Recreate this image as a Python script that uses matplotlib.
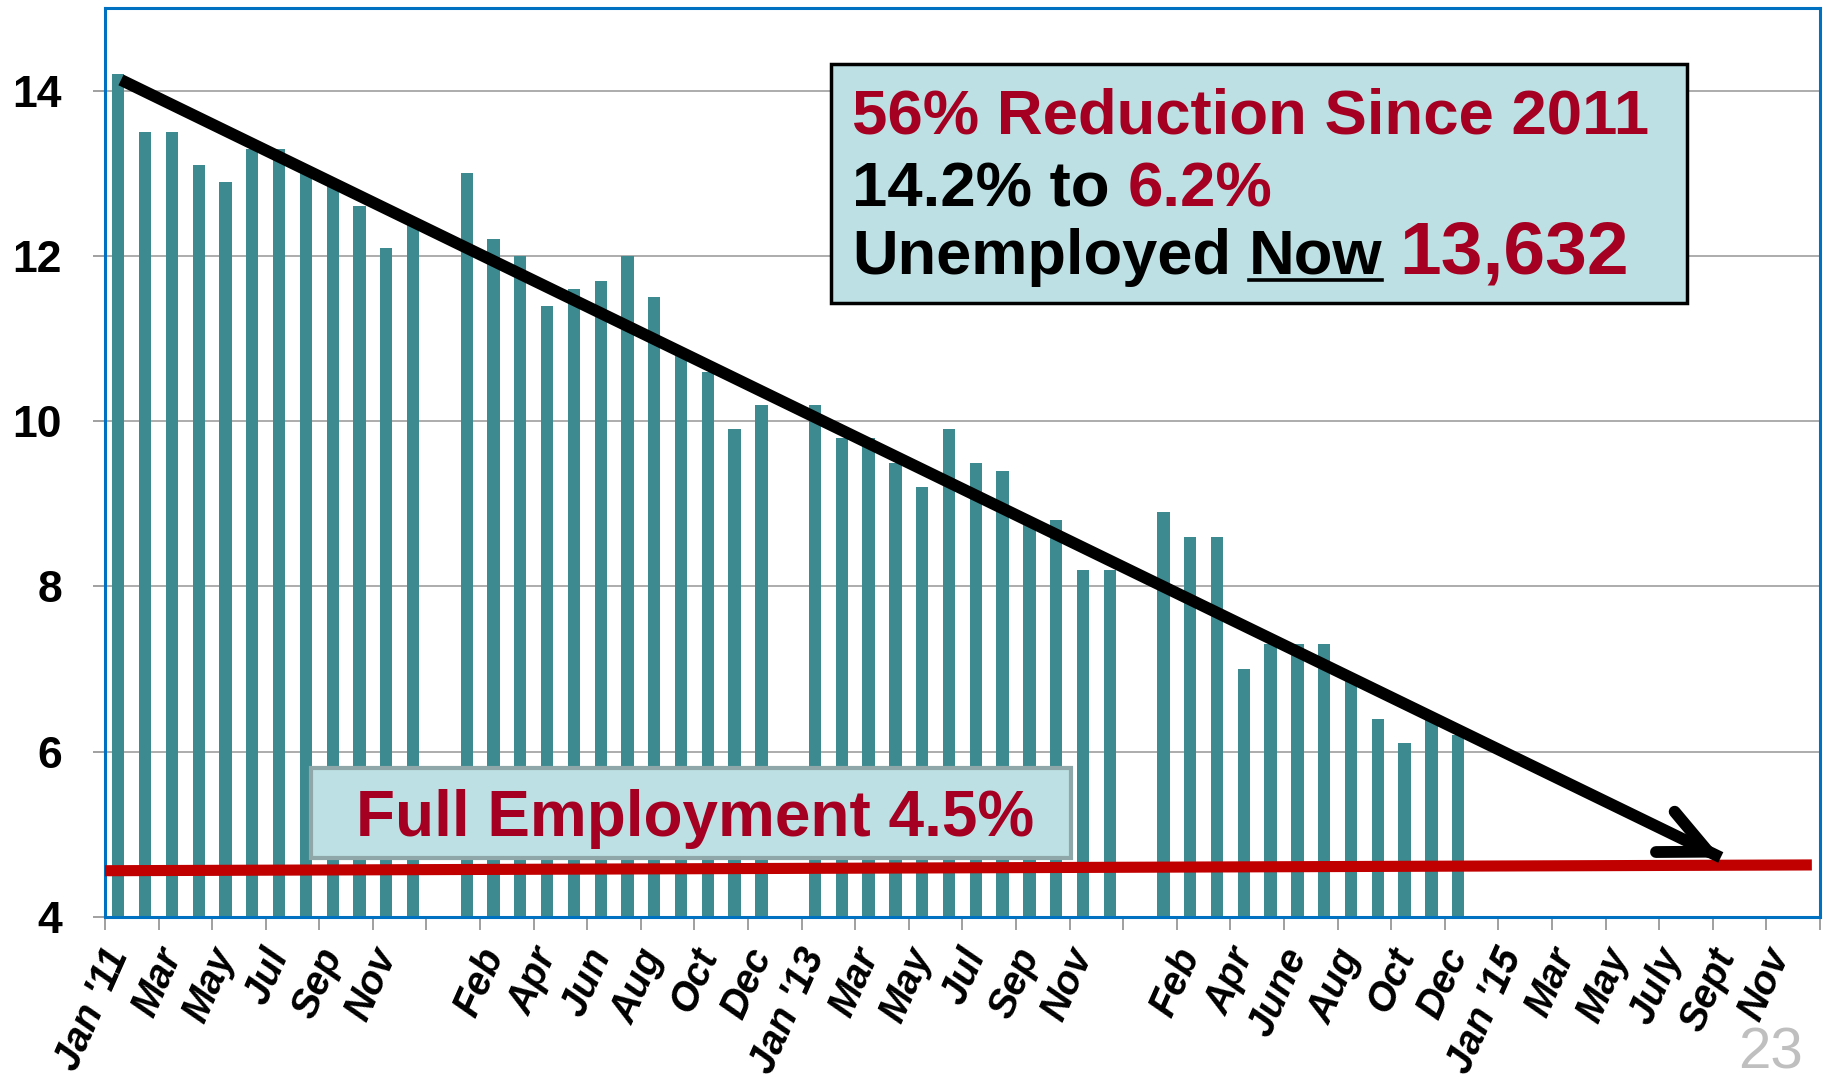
import matplotlib
matplotlib.use('Agg')
import matplotlib.pyplot as plt
from matplotlib.patches import FancyArrowPatch, Rectangle

# unemployment rate by month (%), one list per year
rate_2011 = [14.2, 13.5, 13.5, 13.1, 12.9, 13.3, 13.3, 13.0, 12.9, 12.6, 12.1, 12.4]
rate_2012 = [13.0, 12.2, 12.0, 11.4, 11.6, 11.7, 12.0, 11.5, 10.8, 10.6, 9.9, 10.2]
rate_2013 = [10.2, 9.8, 9.8, 9.5, 9.2, 9.9, 9.5, 9.4, 8.8, 8.8, 8.2, 8.2]
rate_2014 = [8.9, 8.6, 8.6, 7.0, 7.3, 7.3, 7.3, 6.9, 6.4, 6.1, 6.4, 6.2]
years = [rate_2011, rate_2012, rate_2013, rate_2014]

# every second category gets a label (blank slot after each year)
tick_labels = ["Jan '11", "Mar", "May", "Jul", "Sep", "Nov", "",
               "Feb", "Apr", "Jun", "Aug", "Oct", "Dec",
               "Jan '13", "Mar", "May", "Jul", "Sep", "Nov", "",
               "Feb", "Apr", "June", "Aug", "Oct", "Dec",
               "Jan '15", "Mar", "May", "July", "Sept", "Nov"]
n_slots = 64

full_employment = [4.56, 4.63]      # red reference line (left, right)
trend_start = (0.1, 14.13)
trend_end = (59.8, 4.72)

TEAL = '#3D8B90'
DARKRED = '#A50021'
BOXBLUE = '#BCE0E3'
FONT = 'Liberation Sans'

fig = plt.figure(figsize=(18.25, 10.87), dpi=100)
ax = fig.add_axes([0.0575, 0.1564, 0.9397, 0.8362])

# bars
xs, ys = [], []
for yi, vals in enumerate(years):
    for m, v in enumerate(vals):
        xs.append(yi * 13 + m)
        ys.append(v)
ax.bar(xs, [v - 4 for v in ys], bottom=4, width=0.46, color=TEAL, zorder=2)

ax.set_xlim(-0.5, n_slots - 0.5)
ax.set_ylim(4, 15)

# y axis
ax.set_yticks([4, 6, 8, 10, 12, 14])
ax.set_yticklabels(['4', '6', '8', '10', '12', '14'], fontsize=32,
                   fontweight='bold', family=FONT)
ax.tick_params(axis='y', direction='out', length=9, width=1.2,
               color='#909090', pad=22)
ax.yaxis.grid(True, color='#A6A6A6', lw=1.3, zorder=0)
ax.set_axisbelow(True)

# x axis: labels on even categories, tick marks between pairs
label_pos = list(range(0, n_slots, 2))
ax.set_xticks(label_pos)
ax.set_xticklabels(tick_labels, fontsize=28.5, fontweight='bold',
                   fontstyle='italic', family=FONT, rotation=66,
                   ha='right', va='center', rotation_mode='anchor')
ax.set_xticks([p - 0.5 for p in range(0, n_slots + 1, 2)], minor=True)
ax.tick_params(axis='x', which='major', length=0, pad=24)
ax.tick_params(axis='x', which='minor', direction='out', length=9,
               width=1.2, color='#909090')

for s in ax.spines.values():
    s.set_color('#0070C0')
    s.set_linewidth(2.2)

# full employment line
ax.plot([-0.5, 63.2], full_employment, color='#C00000', lw=8,
        solid_capstyle='butt', zorder=4)

# trend arrow: flat-ended shaft plus a rounded open head
ax.plot([trend_start[0], trend_end[0]], [trend_start[1], trend_end[1]],
        color='black', lw=8.5, solid_capstyle='butt', zorder=5)
head_from = (trend_end[0] - 0.9, trend_end[1] + 0.135)
arrow = FancyArrowPatch(head_from, trend_end,
                        arrowstyle='->,head_length=0.85,head_width=0.4',
                        mutation_scale=40, lw=8.5, color='black',
                        shrinkA=0, shrinkB=0, zorder=5,
                        capstyle='round', joinstyle='round')
ax.add_patch(arrow)

# boxes
ax.add_patch(Rectangle((0.4233, 0.6759), 0.4994, 0.2625, transform=ax.transAxes,
                       facecolor=BOXBLUE, edgecolor='black', lw=2.5, zorder=6))
ax.add_patch(Rectangle((0.1201, 0.0652), 0.4431, 0.0987, transform=ax.transAxes,
                       facecolor=BOXBLUE, edgecolor='#8FA7A9', lw=3, zorder=6))
ax.text(0.3439, 0.0895, 'Full Employment 4.5%', transform=ax.transAxes,
        ha='center', va='baseline', fontsize=46, fontweight='bold',
        color=DARKRED, family=FONT, zorder=7)

fig.canvas.draw()
rend = fig.canvas.get_renderer()


def text_runs(x, y, parts):
    # place coloured pieces one after another on one baseline
    px, py = ax.transAxes.transform((x, y))
    for s, color, size, underline, gap in parts:
        t = ax.text(px, py, s, transform=None, color=color, fontsize=size,
                    fontweight='bold', family=FONT, va='baseline', ha='left',
                    zorder=7)
        bb = t.get_window_extent(renderer=rend)
        if underline:
            ax.plot([bb.x0, bb.x1], [py - 6, py - 6], transform=None,
                    color='black', lw=2.6, zorder=7)
        px = bb.x1 + gap * size * 100 / 72


text_runs(0.4356, 0.8616, [('56% Reduction Since 2011', DARKRED, 45.7, False, 0)])
text_runs(0.4356, 0.7822, [('14.2% to', 'black', 45.7, False, 0.278),
                           ('6.2%', DARKRED, 45.7, False, 0)])
text_runs(0.4356, 0.7079, [('Unemployed', 'black', 45.5, False, 0.278),
                           ('Now', 'black', 45.5, True, 0.278),
                           ('13,632', DARKRED, 54, False, 0)])

fig.text(0.9699, 0.006, '23', ha='center', va='bottom', fontsize=42,
         color='#BFBFBF', family=FONT)

fig.savefig('out.png', dpi=100)
